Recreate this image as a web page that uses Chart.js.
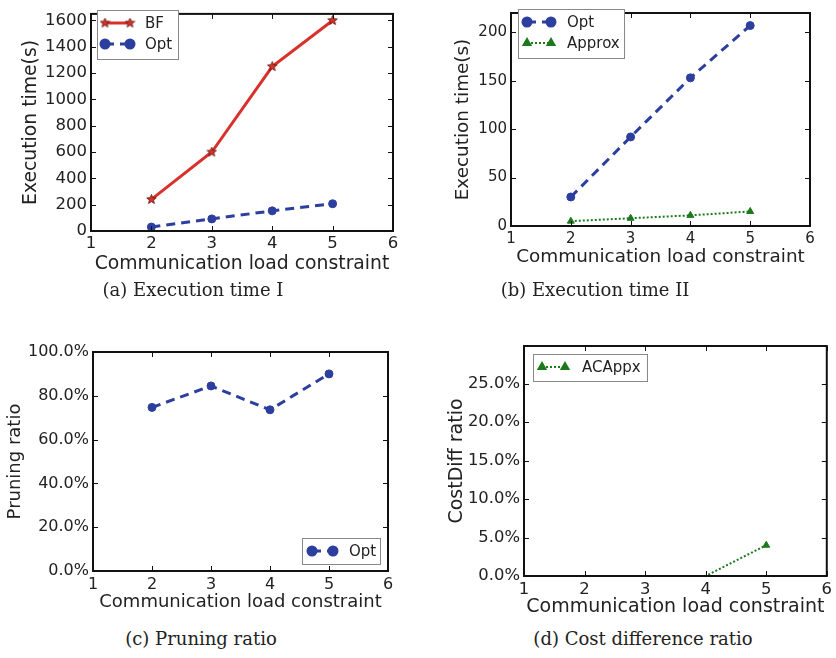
<!DOCTYPE html>
<html>
<head>
<meta charset="utf-8">
<script src="https://cdn.jsdelivr.net/npm/chart.js@4.4.0/dist/chart.umd.min.js"></script>
<style>
  body { margin: 0; background: #fff; }
  #wrap { position: relative; width: 836px; height: 658px; overflow: hidden; }
  canvas { position: absolute; }
  .cap { position: absolute; font-family: "DejaVu Serif", serif; font-size: 18px; line-height: 20px;
         color: #222; white-space: nowrap; transform: translateX(-50%); }
</style>
</head>
<body>
<div id="wrap">
  <canvas id="chartA" width="418" height="280" style="left:0;top:0"></canvas>
  <canvas id="chartB" width="418" height="280" style="left:418px;top:0"></canvas>
  <canvas id="chartC" width="418" height="290" style="left:0;top:330px"></canvas>
  <canvas id="chartD" width="418" height="290" style="left:418px;top:330px"></canvas>
  <div class="cap" style="left:193px;top:280px">(a) Execution time I</div>
  <div class="cap" style="left:595px;top:280px">(b) Execution time II</div>
  <div class="cap" style="left:201px;top:629px">(c) Pruning ratio</div>
  <div class="cap" style="left:643px;top:629px">(d) Cost difference ratio</div>
</div>
<script>
// communication load constraint values
const loads = [2, 3, 4, 5];
// execution time (s)
const bfTime = [240, 600, 1250, 1600];
const optTime = [30, 92, 153, 207];
const approxTime = [5, 8, 11, 15];
// ratios (%)
const optPruning = [74.7, 84.5, 73.6, 90.0];
const acappxCostDiff = [0, 0, 0, 4.0];

const RED = "#d9302a", BLUE = "#2c3f9e", GREEN = "#1c7a1c", INK = "#222";

const pts = ys => loads.map((x, i) => ({ x: x, y: ys[i] }));

// filled star marker like matplotlib '*'
function starMarker() {
  const c = document.createElement("canvas");
  c.width = 11; c.height = 11;
  const g = c.getContext("2d");
  g.beginPath();
  for (let i = 0; i < 10; i++) {
    const r = i % 2 ? 2.2 : 5;
    const a = -Math.PI / 2 + i * Math.PI / 5;
    g.lineTo(5.5 + r * Math.cos(a), 5.5 + r * Math.sin(a));
  }
  g.closePath();
  g.fillStyle = RED; g.fill();
  g.strokeStyle = "#5a1a10"; g.lineWidth = 0.8; g.stroke();
  return c;
}
const star = starMarker();

const bfSet = () => ({ label: "BF", data: pts(bfTime), borderColor: RED, backgroundColor: RED,
  borderWidth: 3, pointStyle: star, pointRadius: 5 });
const optSet = (ys) => ({ label: "Opt", data: pts(ys), borderColor: BLUE, backgroundColor: BLUE,
  borderWidth: 3, borderDash: [9, 6], pointStyle: "circle", pointRadius: 4, pointBorderWidth: 1 });
const apxSet = (label, ys, radius) => ({ label: label, data: pts(ys), borderColor: GREEN, backgroundColor: GREEN,
  borderWidth: 2, borderDash: [2, 2], pointStyle: "triangle", pointRadius: radius, pointBorderWidth: 1 });

// box frame, inward ticks on all sides, matplotlib-like legend
const framePlugin = {
  id: "frame",
  afterDatasetsDraw(chart, args, opts) {
    const { ctx, chartArea: a, scales: { x, y } } = chart;
    ctx.save();
    ctx.strokeStyle = "#111";
    ctx.lineWidth = 1;
    ctx.beginPath();
    x.ticks.forEach(t => {
      const px = Math.round(x.getPixelForValue(t.value)) + 0.5;
      ctx.moveTo(px, a.bottom); ctx.lineTo(px, a.bottom - 5);
      ctx.moveTo(px, a.top); ctx.lineTo(px, a.top + 5);
    });
    y.ticks.forEach(t => {
      const py = Math.round(y.getPixelForValue(t.value)) + 0.5;
      ctx.moveTo(a.left, py); ctx.lineTo(a.left + 5, py);
      ctx.moveTo(a.right, py); ctx.lineTo(a.right - 5, py);
    });
    ctx.stroke();
    ctx.lineWidth = 2;
    ctx.strokeRect(a.left, a.top, a.right - a.left, a.bottom - a.top);

    const lg = opts.legend;
    if (lg) {
      ctx.fillStyle = "#fff";
      ctx.fillRect(lg.x, lg.y, lg.w, lg.h);
      ctx.strokeStyle = "#888";
      ctx.lineWidth = 1;
      ctx.strokeRect(lg.x + 0.5, lg.y + 0.5, lg.w, lg.h);
      chart.data.datasets.forEach((ds, i) => {
        const ry = lg.rows[i];
        ctx.save();
        ctx.strokeStyle = ds.borderColor;
        ctx.lineWidth = ds.borderWidth;
        ctx.setLineDash(ds.borderDash || []);
        ctx.beginPath();
        ctx.moveTo(lg.sx, ry); ctx.lineTo(lg.sx + lg.len, ry);
        ctx.stroke();
        ctx.setLineDash([]);
        ctx.fillStyle = ds.backgroundColor;
        ctx.strokeStyle = ds.borderColor;
        const r = Array.isArray(ds.pointRadius) ? Math.max(...ds.pointRadius) : ds.pointRadius;
        [lg.sx, lg.sx + lg.len].forEach(px => {
          Chart.helpers.drawPoint(ctx, { pointStyle: ds.pointStyle, radius: r, rotation: 0,
            borderWidth: ds.pointBorderWidth || 0 }, px, ry);
        });
        ctx.restore();
        ctx.fillStyle = INK;
        ctx.font = "15px 'DejaVu Sans'";
        ctx.textBaseline = "middle";
        ctx.fillText(ds.label, lg.tx, ry + 1);
      });
    }
    ctx.restore();
  }
};

function makeChart(id, c) {
  const tickFont = { family: "DejaVu Sans", size: c.tickSize };
  const titleFont = { family: "DejaVu Sans", size: c.titleSize };
  return new Chart(document.getElementById(id), {
    type: "line",
    data: { datasets: c.datasets },
    options: {
      responsive: false,
      animation: false,
      layout: { padding: c.pad },
      plugins: { legend: { display: false }, tooltip: { enabled: false }, frame: { legend: c.legend } },
      scales: {
        x: {
          type: "linear", min: 1, max: 6,
          ticks: { stepSize: 1, padding: c.xTickPad, font: tickFont, color: INK },
          grid: { display: false, drawTicks: false },
          border: { display: false },
          title: { display: true, text: "Communication load constraint", font: titleFont, color: INK,
                   padding: { top: 0, bottom: c.xTitlePad } },
          afterFit: s => { s.height = c.xh; }
        },
        y: {
          type: "linear", min: 0, max: c.ymax,
          ticks: { stepSize: c.ystep, includeBounds: false, padding: 4, font: tickFont, color: INK, callback: c.yfmt },
          grid: { display: false, drawTicks: false },
          border: { display: false },
          title: { display: true, text: c.ytitle, font: titleFont, color: INK,
                   padding: { top: c.yTitlePad, bottom: 0 } },
          afterFit: s => { s.width = c.yw; }
        }
      }
    },
    plugins: [framePlugin]
  });
}

const pct = v => v.toFixed(1) + "%";

makeChart("chartA", {
  datasets: [bfSet(), optSet(optTime)],
  pad: { top: 3, right: 25, left: 0, bottom: 0 },
  yw: 91, xh: 49, ymax: 1650, ystep: 200, yfmt: v => v,
  tickSize: 16.5, titleSize: 18.8, xTickPad: 3, xTitlePad: 5, yTitlePad: 20,
  ytitle: "Execution time(s)",
  legend: { x: 97, y: 10, w: 81, h: 49, rows: [23, 44], sx: 105, len: 25, tx: 145 }
});

makeChart("chartB", {
  datasets: [optSet(optTime), apxSet("Approx", approxTime, 4)],
  pad: { top: 2, right: 26, left: 0, bottom: 0 },
  yw: 93, xh: 54, ymax: 220, ystep: 50, yfmt: v => v,
  tickSize: 15, titleSize: 18.4, xTickPad: 4, xTitlePad: 12, yTitlePad: 34,
  ytitle: "Execution time(s)",
  legend: { x: 100, y: 9, w: 106, h: 49, rows: [22, 43], sx: 109, len: 24, tx: 149 }
});

makeChart("chartC", {
  datasets: [optSet(optPruning)],
  pad: { top: 22, right: 30, left: 0, bottom: 0 },
  yw: 93, xh: 49, ymax: 100, ystep: 20, yfmt: pct,
  tickSize: 16, titleSize: 18, xTickPad: 4, xTitlePad: 7, yTitlePad: 5,
  ytitle: "Pruning ratio",
  legend: { x: 302, y: 208, w: 78, h: 26, rows: [221], sx: 312, len: 21, tx: 349 }
});

makeChart("chartD", {
  datasets: [apxSet("ACAppx", acappxCostDiff, [0, 0, 0, 4])],
  pad: { top: 16, right: 6, left: 0, bottom: 0 },
  yw: 106, xh: 44, ymax: 29.9, ystep: 5, yfmt: pct,
  tickSize: 16.4, titleSize: 19, xTickPad: 4, xTitlePad: 2, yTitlePad: 28,
  ytitle: "CostDiff ratio",
  legend: { x: 115, y: 24, w: 114, h: 27, rows: [37], sx: 124, len: 23, tx: 164 }
});
</script>
</body>
</html>
